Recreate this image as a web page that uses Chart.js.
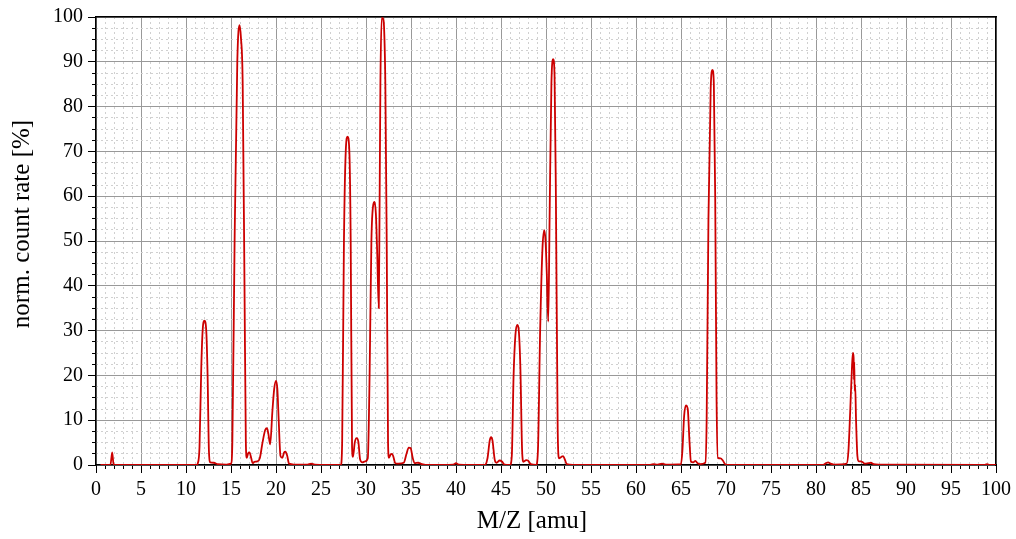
<!DOCTYPE html>
<html>
<head>
<meta charset="utf-8">
<script src="https://cdn.jsdelivr.net/npm/chart.js@4"></script>
<style>
  html, body { margin: 0; padding: 0; background: #fff; }
</style>
</head>
<body>
<canvas id="spectrum" width="1016" height="539"></canvas>
<script>
// Mass positions [amu]
const mz = [
  0.5, 1.6, 1.8, 1.95, 2.2, 11.2, 11.3, 11.5, 11.7, 11.85, 12.05, 12.25, 12.4, 12.55, 12.7, 13.1, 13.5, 14.5,
  15.0, 15.15, 15.4, 15.7, 15.95, 16.1, 16.3, 16.5, 16.65, 16.75, 16.9, 17.05, 17.25, 17.4, 17.6, 17.9,
  18.2, 18.5, 18.8, 19.0, 19.15, 19.35, 19.6, 19.8, 20.0, 20.15, 20.3, 20.5, 20.7, 20.9, 21.05, 21.25, 21.45,
  22.0, 23.5, 23.9, 24.3, 27.2, 27.35, 27.55, 27.75, 27.95, 28.15, 28.3, 28.45, 28.55, 28.75, 28.95, 29.15,
  29.35, 29.6, 29.9, 30.2, 30.4, 30.6, 30.8, 30.95, 31.1, 31.25, 31.42, 31.5, 31.6, 31.75, 31.9, 32.0,
  32.15, 32.3, 32.45, 32.55, 32.75, 32.9, 33.05, 33.25, 33.6, 34.2, 34.5, 34.75, 34.95, 35.2, 35.4, 35.8,
  36.2, 37.0, 39.7, 40.0, 40.3, 43.2, 43.5, 43.75, 43.9, 44.05, 44.3, 44.5, 44.85, 45.1, 45.4, 46.0, 46.2,
  46.4, 46.6, 46.8, 46.95, 47.15, 47.35, 47.5, 47.8, 48.0, 48.3, 48.9, 49.1, 49.35, 49.6, 49.8, 49.95,
  50.1, 50.25, 50.4, 50.6, 50.8, 50.95, 51.1, 51.3, 51.45, 51.7, 51.9, 52.1, 52.3, 53.0, 61.5, 61.9, 62.4,
  62.9, 63.3, 65.0, 65.15, 65.35, 65.55, 65.75, 65.95, 66.1, 66.35, 66.6, 66.85, 67.1, 67.7, 67.85, 68.05,
  68.3, 68.5, 68.65, 68.8, 68.95, 69.1, 69.4, 69.65, 69.9, 70.3, 80.8, 81.1, 81.35, 81.6, 82.0, 83.4, 83.6,
  83.8, 84.0, 84.1, 84.18, 84.22, 84.25, 84.3, 84.35, 84.45, 84.6, 84.75, 85.0, 85.2, 85.4, 85.8, 86.1,
  86.4, 87.0, 98.7, 99.0, 99.3, 100.0
];
// Normalised count rate [%] at each mass position
const rate = [
  0, 0, 2.8, 0.2, 0, 0, 0.3, 4, 22, 30, 32.2, 30, 20, 3, 0.6, 0.5, 0.2, 0.1,
  0.3, 5, 50, 90, 98.2, 95.5, 85, 40, 5, 1.6, 2.6, 2.8, 1.5, 0.4, 0.7, 0.8,
  1.5, 5, 7.8, 8.2, 7, 4.6, 12, 17, 18.8, 17, 10, 2, 1.6, 2.8, 3, 2, 0.3,
  0.1, 0.1, 0.3, 0.1, 0, 5, 50, 70, 73.3, 70, 50, 4, 1.8, 5, 6, 5.2,
  1.2, 0.6, 0.8, 1.5, 20, 50, 58, 58.7, 56, 47, 35, 55, 85, 99.8, 99.6, 98,
  85, 50, 5, 1.6, 2.4, 2.5, 1.8, 0.4, 0.3, 0.5, 2.5, 3.9, 3.8, 1.5, 0.4, 0.5,
  0.2, 0, 0.1, 0.4, 0.1, 0, 1.5, 5.5, 6.2, 5.5, 1.2, 0.5, 1, 0.8, 0.1, 0, 2,
  20, 29, 31.3, 30.5, 22, 3, 0.7, 1.1, 1, 0.2, 0, 3, 30, 48, 52.4, 50,
  42, 32, 55, 85, 90.6, 87, 60, 8, 1.5, 1.8, 2, 1.2, 0.2, 0, 0, 0.2, 0.1,
  0.3, 0.1, 0.2, 3, 11, 13.3, 12.5, 5, 0.8, 0.6, 0.9, 0.4, 0.2, 0.5, 10, 55,
  84, 88.2, 85, 60, 15, 1.6, 1.5, 1.0, 0.2, 0, 0, 0.4, 0.6, 0.3, 0.1, 0.3, 3,
  12, 22, 25, 24, 19, 23, 16.5, 18, 10, 2, 0.8, 0.8, 0.6, 0.3, 0.4, 0.5,
  0.2, 0.1, 0, 0.2, 0, 0
];

const xLabel = 'M/Z [amu]';
const yLabel = 'norm. count rate [%]';

const serif = "'Liberation Serif', 'Times New Roman', serif";
Chart.defaults.font.family = serif;
Chart.defaults.color = '#000';

const points = mz.map((m, i) => ({ x: m, y: rate[i] }));

// hide minor grid lines where a major line already sits
const minorColor = (every) => (c) =>
  (c.tick && Math.abs(c.tick.value / every - Math.round(c.tick.value / every)) < 1e-6) ? 'rgba(0,0,0,0)' : '#d0d0d0';

// axis titles sit a little off-centre (towards the origin) in the original
const axisTitles = {
  id: 'axisTitles',
  afterDraw(chart) {
    const { ctx, chartArea } = chart;
    ctx.save();
    ctx.fillStyle = '#000';
    ctx.font = '25px ' + serif;
    ctx.textAlign = 'center';
    ctx.textBaseline = 'middle';
    ctx.fillText(xLabel, (chartArea.left + chartArea.right) / 2 - 14, 521);
    ctx.translate(22, (chartArea.top + chartArea.bottom) / 2 - 17);
    ctx.rotate(-Math.PI / 2);
    ctx.fillText(yLabel, 0, 0);
    ctx.restore();
  }
};

new Chart(document.getElementById('spectrum'), {
  type: 'line',
  data: {
    datasets: [{
      data: points,
      borderColor: '#cc0000',
      borderWidth: 1.8,
      pointRadius: 0,
      cubicInterpolationMode: 'monotone',
      fill: false
    }]
  },
  options: {
    responsive: false,
    animation: false,
    layout: { padding: { top: 15, right: 19, left: 0, bottom: 0 } },
    plugins: { legend: { display: false }, tooltip: { enabled: false } },
    scales: {
      x: {
        type: 'linear', axis: 'x', position: 'bottom', min: 0, max: 100, weight: 1,
        ticks: { stepSize: 5, font: { size: 20 }, padding: 5, maxRotation: 0, autoSkip: false },
        grid: { color: '#999', tickColor: '#000', tickLength: 8, tickBorderDash: [] },
        border: { color: '#000', width: 1.5 },
        afterFit: (s) => { s.height = 74; }
      },
      xMinor: {
        type: 'linear', axis: 'x', position: 'bottom', min: 0, max: 100, weight: 0,
        ticks: { stepSize: 1, display: false },
        grid: { color: minorColor(5), tickColor: '#000', tickLength: 4, tickBorderDash: [] },
        border: { display: false, dash: [2, 3] },
        afterFit: (s) => { s.height = 0; }
      },
      xTop: {
        type: 'linear', axis: 'x', position: 'top', min: 0, max: 100,
        ticks: { display: false },
        grid: { drawOnChartArea: false, drawTicks: false },
        border: { color: '#000', width: 1.5 },
        afterFit: (s) => { s.height = 0; }
      },
      y: {
        type: 'linear', axis: 'y', position: 'left', min: 0, max: 100, weight: 1,
        ticks: { stepSize: 10, font: { size: 20 }, padding: 5 },
        grid: { color: '#999', tickColor: '#000', tickLength: 8, tickBorderDash: [] },
        border: { color: '#000', width: 1.5 },
        afterFit: (s) => { s.width = 96; }
      },
      yMinor: {
        type: 'linear', axis: 'y', position: 'left', min: 0, max: 100, weight: 0,
        ticks: { stepSize: 2.5, display: false },
        grid: { color: minorColor(10), tickColor: '#000', tickLength: 4, tickBorderDash: [] },
        border: { display: false, dash: [2, 3] },
        afterFit: (s) => { s.width = 0; }
      },
      yRight: {
        type: 'linear', axis: 'y', position: 'right', min: 0, max: 100,
        ticks: { display: false },
        grid: { drawOnChartArea: false, drawTicks: false },
        border: { color: '#000', width: 1.5 },
        afterFit: (s) => { s.width = 0; }
      }
    }
  },
  plugins: [axisTitles]
});
</script>
</body>
</html>
